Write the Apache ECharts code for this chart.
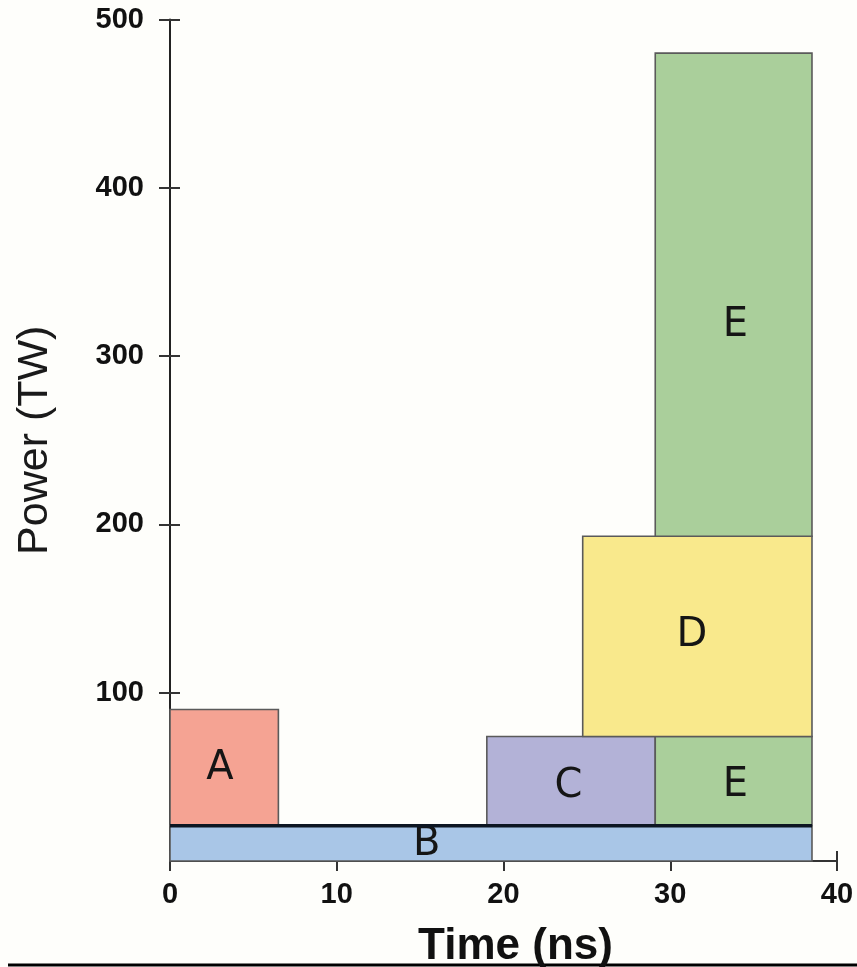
<!DOCTYPE html>
<html>
<head>
<meta charset="utf-8">
<script src="https://cdn.jsdelivr.net/npm/echarts@6/dist/echarts.min.js"></script>
<style>
  html, body { margin: 0; padding: 0; background: #fefefb; }
  #chart { width: 857px; height: 967px; }
</style>
</head>
<body>
<div id="chart"></div>
<script>
// Laser pulse segments: each block spans a time window and a power band
const blockNames = ['B', 'A', 'C', 'E', 'D', 'E'];
const timeStart  = [0,    0,   19,   29.1, 24.75, 29.1];
const timeEnd    = [38.5, 6.5, 29.1, 38.5, 38.5,  38.5];
const powerLow   = [0,    21,  21,   21,   74,    193];
const powerHigh  = [21,   90,  74,   74,   193,   480];
// where each block's letter sits (ns, TW)
const labelTime  = [15.4, 3.0, 23.9, 33.9, 31.3,  33.9];
const labelPower = [9.5,  55,  44,   45,   134,   318];

const xTicks = [0, 10, 20, 30, 40];
const yTicks = [0, 100, 200, 300, 400, 500];

const blockColors = {
  A: '#f5a393',
  B: '#a9c6e7',
  C: '#b3b2d7',
  D: '#f9e98c',
  E: '#aacf9b'
};

const blockData = blockNames.map((n, i) => [
  timeStart[i], timeEnd[i], powerLow[i], powerHigh[i], labelTime[i], labelPower[i], i
]);

// the baseline pulse B top edge, drawn as a heavy rule
const baseTop = powerHigh[0];
const baseLine = [[timeStart[0], baseTop], [timeEnd[0], baseTop]];

const chart = echarts.init(document.getElementById('chart'), null, { renderer: 'canvas' });

const tickFont = {
  fontFamily: 'Liberation Sans, Arial, sans-serif',
  fontWeight: 'bold',
  fontSize: 29,
  color: '#111'
};

const option = {
  backgroundColor: '#fefefb',
  animation: false,
  grid: { left: 170, right: 20, top: 19.5, bottom: 106, containLabel: false, outerBoundsMode: 'none' },
  xAxis: [
    {
      type: 'value', min: xTicks[0], max: xTicks[xTicks.length - 1], interval: 10,
      position: 'bottom',
      name: 'Time (ns)', nameLocation: 'middle', nameGap: 64,
      nameTextStyle: {
        fontFamily: 'Liberation Sans, Arial, sans-serif', fontWeight: 'bold', fontSize: 44, color: '#111',
        padding: [0, 0, 0, 24]
      },
      axisLine: { show: true, lineStyle: { color: '#333', width: 2 } },
      axisTick: { show: true, inside: false, length: 10, lineStyle: { color: '#333', width: 2 } },
      axisLabel: Object.assign({ margin: 19 }, tickFont),
      splitLine: { show: false }
    },
    {
      type: 'value', min: xTicks[0], max: xTicks[xTicks.length - 1], interval: 10,
      position: 'bottom', offset: 0,
      axisLine: { show: false },
      axisTick: { show: true, inside: true, length: 10, lineStyle: { color: '#333', width: 2 } },
      axisLabel: { show: false },
      splitLine: { show: false }
    }
  ],
  yAxis: [
    {
      type: 'value', min: yTicks[0], max: yTicks[yTicks.length - 1], interval: 100,
      position: 'left',
      name: 'Power (TW)', nameLocation: 'middle', nameGap: 113, nameRotate: 90,
      nameTextStyle: { fontFamily: 'Liberation Sans, Arial, sans-serif', fontSize: 43, color: '#1a1a1a' },
      axisLine: { show: true, lineStyle: { color: '#222', width: 2 } },
      axisTick: { show: true, inside: false, length: 11, lineStyle: { color: '#333', width: 2 } },
      axisLabel: Object.assign({ margin: 26, showMinLabel: false }, tickFont),
      splitLine: { show: false }
    },
    {
      type: 'value', min: yTicks[0], max: yTicks[yTicks.length - 1], interval: 100,
      position: 'left', offset: 0,
      axisLine: { show: false },
      axisTick: { show: true, inside: true, length: 10, lineStyle: { color: '#333', width: 2 } },
      axisLabel: { show: false },
      splitLine: { show: false }
    }
  ],
  series: [
    {
      type: 'custom',
      xAxisIndex: 0, yAxisIndex: 0,
      encode: { x: [0, 1, 4], y: [2, 3, 5] },
      data: blockData,
      z: 2,
      renderItem: function (params, api) {
        const p0 = api.coord([api.value(0), api.value(3)]);
        const p1 = api.coord([api.value(1), api.value(2)]);
        const lp = api.coord([api.value(4), api.value(5)]);
        const idx = api.value(6);
        const name = blockNames[idx];
        return {
          type: 'group',
          children: [
            {
              type: 'rect',
              shape: { x: p0[0], y: p0[1], width: p1[0] - p0[0], height: p1[1] - p0[1] },
              style: { fill: blockColors[name], stroke: '#5a5a5a', lineWidth: 1.6 }
            },
            {
              type: 'text',
              z2: 10,
              style: {
                x: lp[0], y: lp[1], text: name,
                align: 'center', verticalAlign: 'middle',
                font: '40px "DejaVu Sans", sans-serif',
                fill: '#151515'
              }
            }
          ]
        };
      }
    },
    {
      type: 'line',
      xAxisIndex: 0, yAxisIndex: 0,
      data: baseLine,
      symbol: 'none',
      z: 5,
      lineStyle: { color: '#0d1622', width: 3.5 }
    }
  ],
  graphic: [
    {
      type: 'line',
      shape: { x1: 8, y1: 965, x2: 857, y2: 965 },
      style: { stroke: '#000', lineWidth: 3 }
    }
  ]
};

chart.setOption(option);
</script>
</body>
</html>
